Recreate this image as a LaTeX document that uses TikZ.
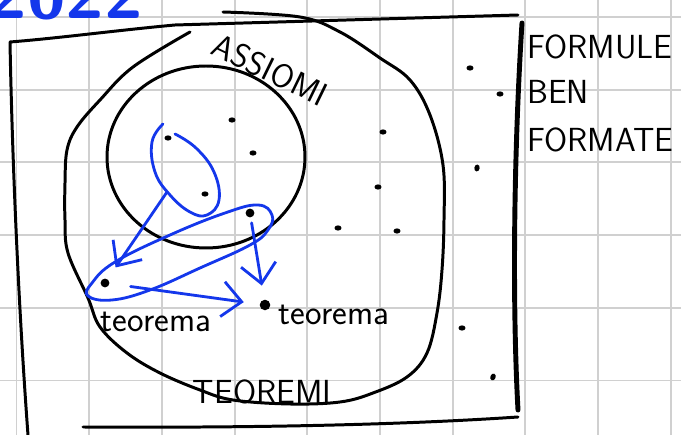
\documentclass[tikz,border=0pt]{standalone}
\usepackage{tikz}
\usetikzlibrary{arrows.meta,calc,positioning,shapes.geometric}
\definecolor{inkblue}{RGB}{20,55,235}
\definecolor{gridgray}{RGB}{208,208,208}

\begin{document}
\begin{tikzpicture}[x=0.02cm,y=-0.02cm,
    ink/.style={line width=1.7pt,line cap=round,line join=round},
    bink/.style={inkblue,line width=1.6pt,line cap=round,line join=round},
    barb/.style={bink,-{Straight Barb[length=11pt,width=20pt,line width=1.6pt]}},
    dot/.style={ellipse,fill=black,inner sep=0pt,minimum width=4pt,minimum height=3pt},
    bigdot/.style={circle,fill=black,inner sep=0pt,minimum size=5pt},
    caps/.style={font=\sffamily\fontsize{19}{22}\selectfont},
    hand/.style={font=\sffamily\fontsize{20}{22}\selectfont}]
  \useasboundingbox (0,0) rectangle (681,435);
  \def\g{72.7}
  % grid of the page
  \foreach \i in {0,...,9}
    \draw[gridgray,line width=1.1pt] (16.5+\i*\g,0) -- (16.5+\i*\g,435);
  \foreach \j in {0,...,5}
    \draw[gridgray,line width=1.1pt] (0,17+\j*\g) -- (681,17+\j*\g);
  % year, cut at the top
  \node[inkblue,font=\sffamily\bfseries\fontsize{40}{40}\selectfont,anchor=base west,inner sep=0pt] (year) at (-12,19) {2022};
  % frame: formule ben formate
  \draw[ink] (28,435) .. controls (18,300) and (12,150) .. (10,42)
             .. controls (60,38) and (120,30) .. (175,25) -- (518,15);
  \draw[ink,line width=2.8pt] (522,23) .. controls (514,150) and (512,300) .. (518,410);
  \draw[ink] (518,417) .. controls (400,425) and (250,428) .. (83,427);
  % teoremi
  \draw[ink] plot[smooth,tension=0.6] coordinates {(190,32) (133,67) (100,100) (77,127)
      (67,150) (65,183) (65,220) (68,253) (88,298) (100,327) (127,353) (160,373)
      (200,390) (233,400) (290,404) (340,402) (373,393) (407,377) (427,353) (437,313)
      (442,270) (444,220) (443,165) (430,115) (410,80) (380,58) (340,32) (300,17) (223,12)};
  % assiomi
  \draw[ink] (206,157) ellipse [x radius=99, y radius=91];
  % points
  \node[dot] (ax1) at (168,138) {};
  \node[dot] (ax2) at (232,120) {};
  \node[dot] (ax3) at (253,153) {};
  \node[dot] (ax4) at (205,194) {};
  \node[bigdot] (ax5) at (250,213) {};
  \node[dot] (fb1) at (383,132) {};
  \node[dot] (fb2) at (378,187) {};
  \node[dot] (fb3) at (338,228) {};
  \node[dot] (fb4) at (397,231) {};
  \node[dot] (fb5) at (470,68) {};
  \node[dot] (fb6) at (500,94) {};
  \node[dot,rotate=80] (fb7) at (477,168) {};
  \node[dot] (fb8) at (462,328) {};
  \node[dot,rotate=70] (fb9) at (493,377) {};
  \node[bigdot] (th1) at (105,283) {};
  \node[bigdot,minimum size=6pt] (th2) at (265,305) {};
  % labels
  \node[caps,rotate=-26] (assiomi) at (270,70) {ASSIOMI};
  \node[caps] (teoremi) at (262,392) {TEOREMI};
  \node[caps,anchor=north west,inner sep=0pt] (fbf1) at (527,34) {FORMULE};
  \node[caps,anchor=north west,inner sep=0pt] (fbf2) at (527,80) {BEN};
  \node[caps,anchor=north west,inner sep=0pt] (fbf3) at (527,127) {FORMATE};
  \node[hand] (lblA) at (156,322) {teorema};
  \node[hand] (lblB) at (334,315) {teorema};
  % blue strokes
  \draw[bink] plot[smooth,tension=0.7] coordinates {(163,124) (152,142) (155,172) (170,195)
      (190,212) (207,215) (219,200) (214,172) (196,148) (175,134)};
  \draw[bink] plot[smooth cycle,tension=0.7] coordinates {(88,296) (112,300) (150,290)
      (200,268) (250,245) (268,230) (272,215) (258,205) (225,213) (170,235) (115,262) (92,283)};
  \coordinate (lp) at (167,192);
  \draw[barb,shorten >=8pt] (lp) -- (th1);
  \draw[barb,shorten <=3pt,shorten >=8pt] (ax5) -- (th2);
  \draw[barb,shorten <=12pt,shorten >=9pt] (th1) -- (th2);
\end{tikzpicture}
\end{document}
